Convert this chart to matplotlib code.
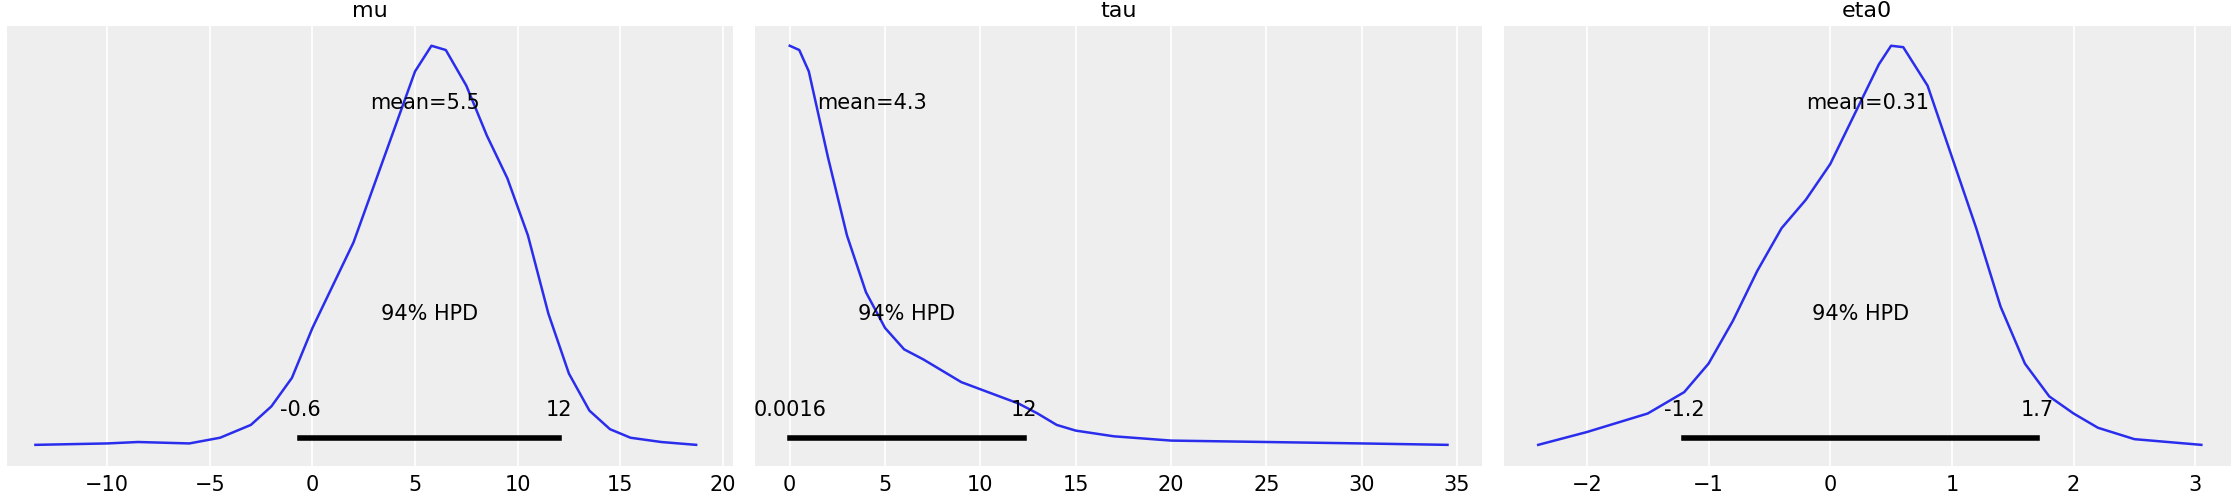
import numpy as np
import matplotlib.pyplot as plt

# curve heights (pixel rows, baseline 327, top 18)
mu_x = [-13.5, -10, -8.5, -6, -4.5, -3, -2, -1, 0, 1, 2, 3, 4, 5, 5.8, 6.5, 7.5, 8.5, 9.5, 10.5, 11.5, 12.5, 13.5, 14.5, 15.5, 17, 18.7]
mu_px = [312, 311, 310, 311, 307, 298, 285, 265, 230, 200, 170, 130, 90, 50, 32, 35, 60, 95, 125, 165, 220, 262, 288, 301, 307, 310, 312]
tau_x = [0, 0.5, 1, 2, 3, 4, 5, 6, 7, 8, 9, 10, 11, 12, 13, 14, 15, 17, 20, 25, 30, 34.5]
tau_px = [32, 35, 50, 110, 165, 205, 230, 245, 252, 260, 268, 273, 278, 283, 290, 298, 302, 306, 309, 310, 311, 312]
eta_x = [-2.4, -2, -1.5, -1.2, -1, -0.8, -0.6, -0.4, -0.2, 0, 0.2, 0.4, 0.5, 0.6, 0.8, 1, 1.2, 1.4, 1.6, 1.8, 2, 2.2, 2.5, 3.05]
eta_px = [312, 303, 290, 275, 255, 225, 190, 160, 140, 115, 80, 45, 32, 33, 60, 110, 160, 215, 255, 278, 290, 300, 308, 312]

names = ['mu', 'tau', 'eta0']
means = [5.5, 4.3, 0.31]
mean_labels = ['mean=5.5', 'mean=4.3', 'mean=0.31']
hpd = [(-0.6, 12.0), (0.0016, 12.3), (-1.2, 1.7)]
hpd_labels = [('-0.6', '12'), ('0.0016', '12'), ('-1.2', '1.7')]
xlims = [(-14.9, 20.5), (-1.8, 36.3), (-2.68, 3.29)]
ticks = [[-10, -5, 0, 5, 10, 15, 20], [0, 5, 10, 15, 20, 25, 30, 35], [-2, -1, 0, 1, 2, 3]]
curves = [(mu_x, mu_px), (tau_x, tau_px), (eta_x, eta_px)]

fig = plt.figure(figsize=(22.35, 4.96), dpi=100)
lefts = [0.003, 0.338, 0.673]
for i in range(3):
    ax = fig.add_axes([lefts[i], 0.06, 0.325, 0.888])
    ax.set_facecolor('#eeeeee')
    for s in ax.spines.values():
        s.set_visible(False)
    ax.grid(axis='x', color='white', linewidth=1.2)
    ax.set_axisbelow(True)
    x, px = curves[i]
    y = (327 - np.array(px)) / 309
    ax.plot(x, y, color='#2a2eec', linewidth=1.8)
    lo, hi = hpd[i]
    ax.plot([lo, hi], [0.065, 0.065], color='black', linewidth=4)
    ax.text(lo, 0.105, hpd_labels[i][0], ha='center', va='bottom', fontsize=15)
    ax.text(hi, 0.105, hpd_labels[i][1], ha='center', va='bottom', fontsize=15)
    ax.text((lo + hi) / 2, 0.346, '94% HPD', ha='center', va='center', fontsize=15)
    ax.text(means[i], 0.825, mean_labels[i], ha='center', va='center', fontsize=15)
    ax.set_xlim(*xlims[i])
    ax.set_ylim(0, 1)
    ax.set_yticks([])
    ax.set_xticks(ticks[i])
    ax.tick_params(axis='x', labelsize=15, length=0, pad=6)
    ax.set_title(names[i], fontsize=16)

fig.savefig('out.png', dpi=100)
